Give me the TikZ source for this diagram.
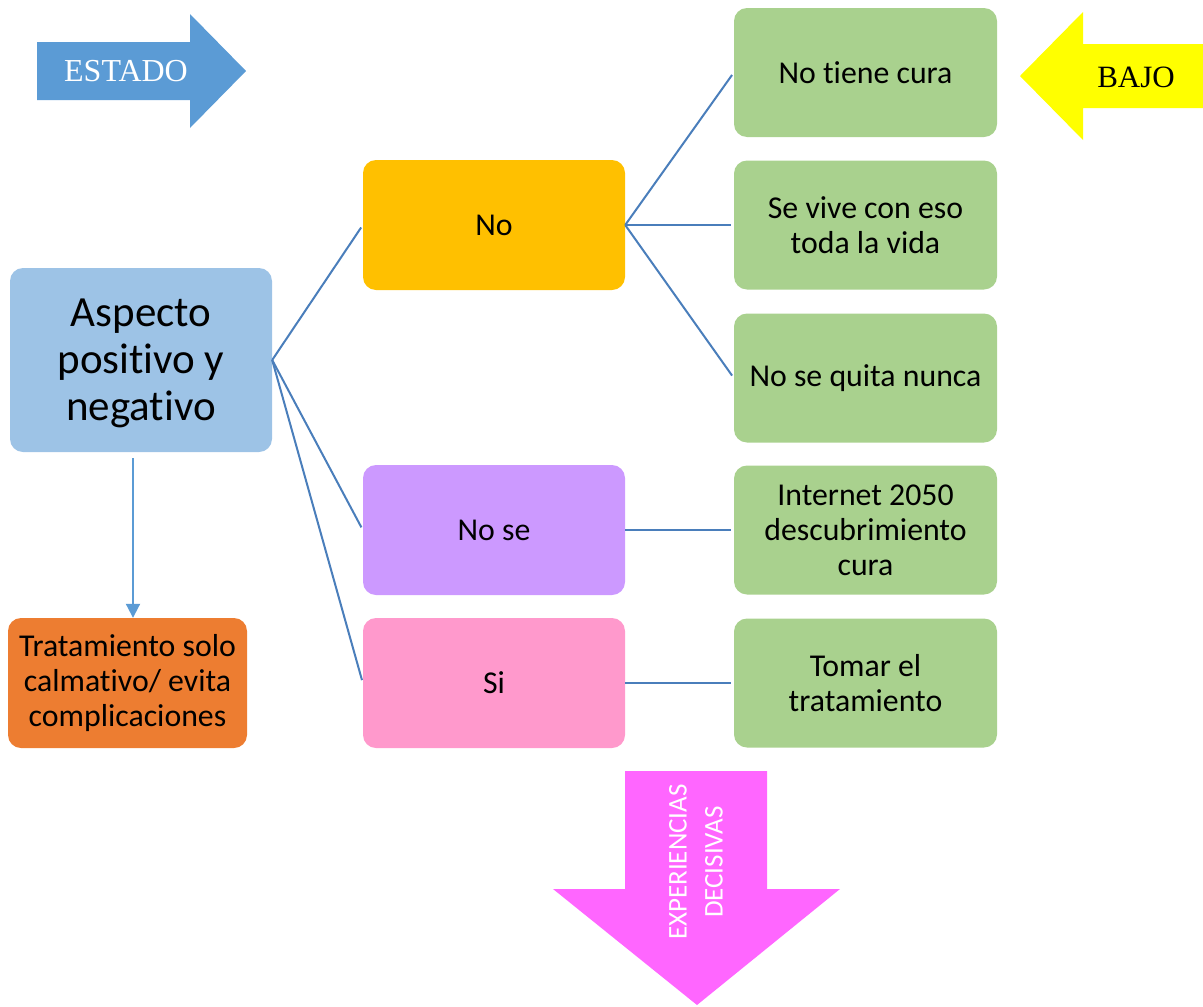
\documentclass[tikz,border=0pt]{standalone}
\usepackage{fontspec}
\setmainfont[Ligatures=NoCommon]{Carlito}
\newfontfamily\timesfont{Liberation Serif}
\usetikzlibrary{arrows.meta}

\definecolor{aspectoblue}{HTML}{9DC3E6}
\definecolor{tratorange}{HTML}{ED7D31}
\definecolor{nogold}{HTML}{FFC000}
\definecolor{noselilac}{HTML}{CC99FF}
\definecolor{sipink}{HTML}{FF99CC}
\definecolor{leafgreen}{HTML}{A9D18E}
\definecolor{arrowblue}{HTML}{5B9BD5}
\definecolor{linkblue}{HTML}{4A7EBB}
\definecolor{magentaarrow}{HTML}{FF66FF}
\definecolor{brightyellow}{HTML}{FFFF00}

\tikzset{
  card/.style={rounded corners=13pt, inner sep=0pt, align=center,
    font=\fontsize{31.8}{35}\selectfont},
  midcard/.style={card, minimum width=262pt, minimum height=130pt},
  leaf/.style={card, fill=leafgreen, minimum width=263pt, minimum height=129pt},
  link/.style={draw=linkblue, line width=2pt, shorten >=3pt},
}

\begin{document}
\begin{tikzpicture}[x=1pt,y=-1pt]
\useasboundingbox (0,0) rectangle (1203,1007);

% main topic and its outcome
\node[card, fill=aspectoblue, minimum width=262pt, minimum height=184pt,
      font=\fontsize{43}{47}\selectfont] (aspecto) at (141,360)
      {\raisebox{-4pt}[\height][\depth]{\begin{tabular}{@{}c@{}}Aspecto\\positivo y\\negativo\end{tabular}}};
\node[card, fill=tratorange, minimum width=239pt, minimum height=130pt]
      (trat) at (127.5,683) {Tratamiento solo\\calmativo/ evita\\complicaciones};

% middle column
\node[midcard, fill=nogold]    (no)   at (494,225) {No};
\node[midcard, fill=noselilac] (nose) at (494,530) {No se};
\node[midcard, fill=sipink]    (si)   at (494,683) {Si};

% right column
\node[leaf] (cura)   at (865.5,72.5)  {No tiene cura};
\node[leaf] (vive)   at (865.5,225)   {Se vive con eso\\toda la vida};
\node[leaf] (nunca)  at (865.5,378)   {No se quita nunca};
\node[leaf] (inet)   at (865.5,530)   {Internet 2050\\descubrimiento\\cura};
\node[leaf] (tomar)  at (865.5,683)   {Tomar el\\tratamiento};

% connectors
\draw[link] (aspecto.east) -- (no.west);
\draw[link] (aspecto.east) -- (nose.west);
\draw[link] (aspecto.east) -- (si.west);
\draw[link] (no.east) -- (cura.west);
\draw[link] (no.east) -- (vive.west);
\draw[link] (no.east) -- (nunca.west);
\draw[link] (nose.east) -- (inet.west);
\draw[link] (si.east) -- (tomar.west);
\coordinate (drop) at (133,0);
\draw[draw=arrowblue, line width=2pt, shorten <=6pt,
      -{Triangle[length=14pt,width=14pt]}]
      (aspecto.south -| drop) -- (trat.north -| drop);

% block arrows
\fill[arrowblue] (37,42) -- (190,42) -- (190,14) -- (246,71) -- (190,128)
  -- (190,100) -- (37,100) -- cycle;
\node[text=white, font=\timesfont\fontsize{32}{36}\selectfont] (estado)
  at (126,71) {ESTADO};

\fill[brightyellow] (1203,44) -- (1083,44) -- (1083,12) -- (1020,76)
  -- (1083,140) -- (1083,108) -- (1203,108) -- cycle;
\node[font=\timesfont\fontsize{31}{36}\selectfont] (bajo) at (1136,77) {BAJO};

\fill[magentaarrow] (625,771) -- (767,771) -- (767,889) -- (840,889)
  -- (697,1005) -- (553,889) -- (625,889) -- cycle;
\node[rotate=90, text=white, align=center,
      font=\fontsize{27}{36}\selectfont] (exper) at (696,862)
      {EXPERIENCIAS\\DECISIVAS};
\end{tikzpicture}
\end{document}
